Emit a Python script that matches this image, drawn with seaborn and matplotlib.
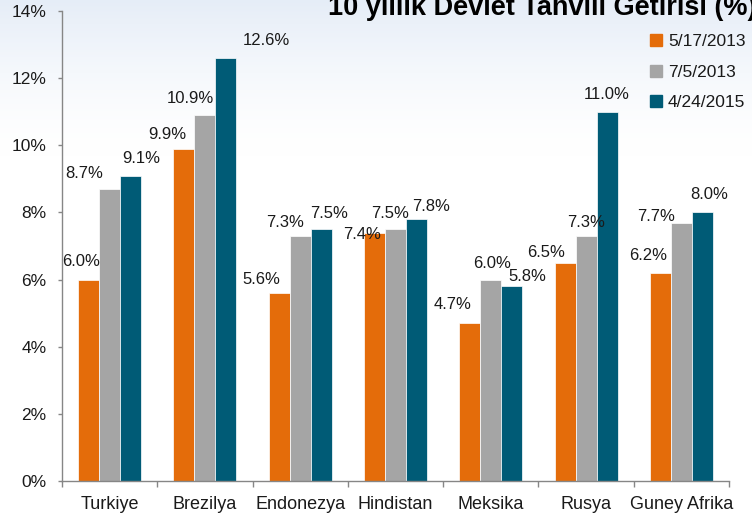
import numpy as np
import pandas as pd
import matplotlib
matplotlib.use("Agg")
import matplotlib.pyplot as plt
from matplotlib.lines import Line2D
from matplotlib.ticker import FuncFormatter
import seaborn as sns

# 10-year government bond yields (%)
countries = ["Turkiye", "Brezilya", "Endonezya", "Hindistan", "Meksika", "Rusya", "Guney Afrika"]
dates = ["5/17/2013", "7/5/2013", "4/24/2015"]
yield_may13 = [6.0, 9.9, 5.6, 7.4, 4.7, 6.5, 6.2]
yield_jul13 = [8.7, 10.9, 7.3, 7.5, 6.0, 7.3, 7.7]
yield_apr15 = [9.1, 12.6, 7.5, 7.8, 5.8, 11.0, 8.0]
colors = ["#E46C0A", "#A5A5A5", "#005B76"]

# data label offsets from the bar top (pixels), one list per series
offsets_may13 = [(-8, 18), (-17, 14), (-18, 14), (-12, -2), (-17, 19), (-19, 10), (-12, 17)]
offsets_jul13 = [(-25, 15), (-15, 17), (-15, 13), (-5, 16), (1, 16), (0, 13), (-25, 6)]
offsets_apr15 = [(11, 17), (40, 18), (8, 16), (15, 13), (16, 10), (0, 17), (7, 18)]
offsets = [offsets_may13, offsets_jul13, offsets_apr15]

df = pd.DataFrame({
    "country": countries * 3,
    "date": np.repeat(dates, len(countries)),
    "value": yield_may13 + yield_jul13 + yield_apr15,
})

sns.set_style("white")
plt.rcParams["font.family"] = ["Liberation Sans", "DejaVu Sans"]
text_color = "#1A1A1A"
axis_color = "#868686"

fig = plt.figure(figsize=(7.52, 5.18), dpi=100)

# faint bluish gradient at the top of the slide
bg = fig.add_axes([0, 0, 1, 1], zorder=-10)
t = np.linspace(0, 1, 300)[:, None]
fade = np.clip(1 - t / 0.3, 0, 1) ** 1.5
top = np.array([0.90, 0.93, 0.97])
img = 1 - fade[:, :, None] * (1 - top)[None, None, :]
bg.imshow(img, aspect="auto", extent=[0, 1, 0, 1])
bg.axis("off")

ax = fig.add_axes([62 / 752, 1 - 481 / 518, 667 / 752, 470 / 518])
ax.patch.set_alpha(0)

sns.barplot(data=df, x="country", y="value", hue="date", palette=colors,
            width=0.66, saturation=1, edgecolor="white", linewidth=0.5,
            legend=False, ax=ax)

ax.set_xlim(-0.5, len(countries) - 0.5)
ax.set_ylim(0, 14)
ax.set_yticks(range(0, 15, 2))
ax.yaxis.set_major_formatter(FuncFormatter(lambda v, p: f"{v:.0f}%"))
ax.set_xlabel("")
ax.set_ylabel("")

for side in ["top", "right"]:
    ax.spines[side].set_visible(False)
for side in ["left", "bottom"]:
    ax.spines[side].set_color(axis_color)
    ax.spines[side].set_linewidth(1)

ax.tick_params(axis="y", length=3, width=1, color=axis_color, direction="out",
               pad=8, labelsize=12.5, labelcolor=text_color, left=True)
ax.tick_params(axis="x", which="major", length=0, pad=11, labelsize=13,
               labelcolor=text_color)
ax.set_xticks(np.arange(-0.5, len(countries), 1.0), minor=True)
ax.tick_params(axis="x", which="minor", length=4, width=1, color=axis_color,
               direction="out", bottom=True)

# data labels
for j, cont in enumerate(ax.containers):
    for bar in cont:
        xc = bar.get_x() + bar.get_width() / 2
        h = bar.get_height()
        i = int(round(xc))
        dx, dy = offsets[j][i]
        ax.annotate(f"{h:.1f}%", (xc, h), xytext=(dx * 0.72, dy * 0.72),
                    textcoords="offset points", ha="center", va="center",
                    fontsize=12, color=text_color)

# legend
handles = [Line2D([], [], marker="s", linestyle="none", markersize=8,
                  markerfacecolor=c, markeredgecolor=c) for c in colors]
fig.legend(handles, dates, loc="upper left", bbox_to_anchor=(649 / 752, 1 - 34 / 518),
           frameon=False, fontsize=12.5, borderpad=0, handlelength=0.8,
           handletextpad=0.3, labelspacing=0.88, borderaxespad=0,
           labelcolor=text_color)

# title (clipped at the top edge in the original)
fig.text(328 / 752, 1 - 15 / 518, "10 yillik Devlet Tahvili Getirisi (%)",
         fontsize=19.5, fontweight="bold", color="black", ha="left", va="baseline")

fig.savefig("out.png", dpi=100)
